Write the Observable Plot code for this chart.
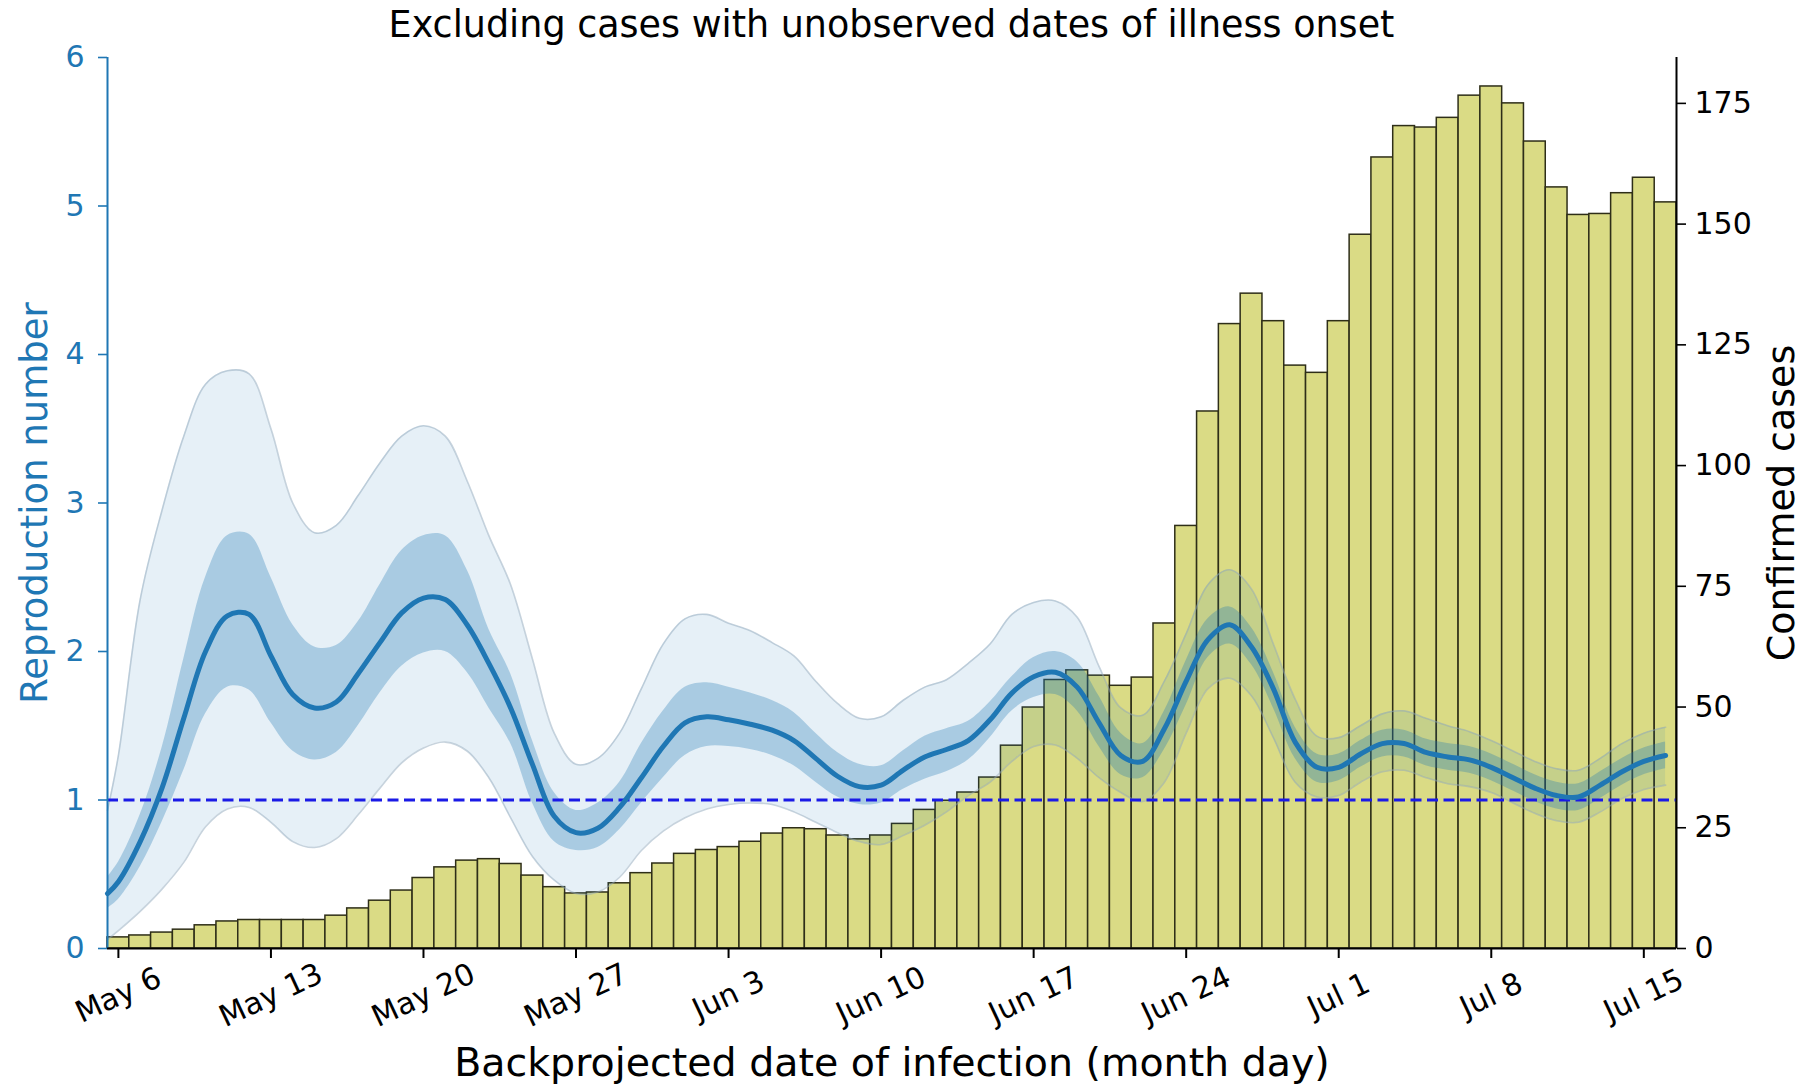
<!DOCTYPE html>
<html>
<head>
<meta charset="utf-8">
<script src="https://cdn.jsdelivr.net/npm/d3@7"></script>
<script src="https://cdn.jsdelivr.net/npm/@observablehq/plot@0.6"></script>
<style>
  html, body { margin: 0; padding: 0; background: #fff; }
  #wrap { width: 1812px; height: 1087px; position: relative; font-family: "DejaVu Sans", sans-serif; }
  #title { position: absolute; left: 107px; width: 1569px; top: 0; height: 50px; line-height: 50px;
           text-align: center; font-size: 36.5px; color: #000; white-space: nowrap; }
  #chart { position: absolute; left: 0; top: 50px; }
</style>
</head>
<body>
<div id="wrap">
  <div id="title">Excluding cases with unobserved dates of illness onset</div>
  <div id="chart"></div>
</div>
<script>
// ---------- data ----------
const startDate = "2020-05-06";               // first bar (day offset 0)
// confirmed cases per backprojected infection date (May 6 ... Jul 16)
const cases = [
  2.3, 2.7, 3.3, 3.9, 4.8, 5.6, 5.9, 5.9, 5.9, 5.9,
  6.8, 8.3, 9.9, 12.0, 14.6, 16.8, 18.2, 18.5, 17.5, 15.1,
  12.7, 11.4, 11.6, 13.5, 15.6, 17.6, 19.6, 20.4, 21.0, 22.1,
  23.8, 24.9, 24.7, 23.4, 22.6, 23.4, 25.8, 28.7, 30.6, 32.3,
  35.4, 42.0, 49.9, 55.6, 57.6, 56.5, 54.4, 56.1, 67.3, 87.5,
  111.2, 129.3, 135.6, 129.9, 120.7, 119.2, 129.9, 147.8, 163.8, 170.3,
  170.0, 172.0, 176.6, 178.5, 175.0, 167.1, 157.6, 151.9, 152.1, 156.4,
  159.6, 154.5
];
// reproduction number: day offsets from May 6
const rtDays = [-0.5, 0, 1, 2, 3, 4, 5, 6, 7, 8, 9, 10, 11, 12, 13, 14, 15, 16, 17, 18, 19,
  20, 21, 22, 23, 24, 25, 26, 27, 28, 29, 30, 31, 32, 33, 34, 35, 36, 37, 38, 39,
  40, 41, 42, 43, 44, 45, 46, 47, 48, 49, 50, 51, 52, 53, 54, 55, 56, 57, 58, 59,
  60, 61, 62, 63, 64, 65, 66, 67, 68, 69, 70, 71];
const rtMedian = [0.37, 0.45, 0.72, 1.08, 1.55, 2.00, 2.24, 2.25, 1.97, 1.71, 1.62, 1.66, 1.85, 2.06, 2.26, 2.36, 2.35, 2.18, 1.92, 1.62, 1.24,
  0.89, 0.78, 0.81, 0.95, 1.15, 1.36, 1.52, 1.56, 1.54, 1.51, 1.47, 1.40, 1.28, 1.16, 1.09, 1.10, 1.20, 1.29, 1.34, 1.40,
  1.54, 1.72, 1.83, 1.86, 1.76, 1.52, 1.30, 1.26, 1.48, 1.80, 2.08, 2.18, 2.03, 1.75, 1.39, 1.22, 1.22, 1.31, 1.38, 1.38,
  1.32, 1.29, 1.27, 1.22, 1.15, 1.08, 1.03, 1.02, 1.10, 1.19, 1.26, 1.30];
const rtLow50 = [0.27, 0.33, 0.55, 0.85, 1.20, 1.58, 1.76, 1.74, 1.52, 1.33, 1.27, 1.32, 1.50, 1.72, 1.90, 1.99, 2.00, 1.86, 1.62, 1.38, 0.98,
  0.72, 0.66, 0.68, 0.80, 0.98, 1.15, 1.30, 1.36, 1.36, 1.34, 1.30, 1.23, 1.12, 1.02, 0.97, 0.98, 1.07, 1.14, 1.19, 1.27,
  1.42, 1.60, 1.69, 1.71, 1.60, 1.36, 1.17, 1.15, 1.34, 1.64, 1.96, 2.05, 1.91, 1.62, 1.28, 1.12, 1.13, 1.22, 1.29, 1.29,
  1.23, 1.20, 1.18, 1.13, 1.06, 0.99, 0.94, 0.93, 1.01, 1.10, 1.17, 1.21];
const rtHigh50 = [0.48, 0.58, 0.90, 1.35, 1.95, 2.50, 2.78, 2.79, 2.50, 2.18, 2.03, 2.04, 2.20, 2.45, 2.68, 2.78, 2.78, 2.55, 2.15, 1.85, 1.40,
  1.05, 0.93, 0.98, 1.12, 1.38, 1.60, 1.76, 1.79, 1.76, 1.72, 1.67, 1.59, 1.45, 1.32, 1.24, 1.23, 1.33, 1.43, 1.48, 1.53,
  1.66, 1.83, 1.96, 2.00, 1.93, 1.70, 1.45, 1.38, 1.60, 1.94, 2.22, 2.30, 2.16, 1.86, 1.49, 1.31, 1.31, 1.40, 1.47, 1.47,
  1.41, 1.38, 1.36, 1.31, 1.24, 1.17, 1.12, 1.11, 1.19, 1.28, 1.35, 1.39];
const rtLow95 = [0.06, 0.12, 0.25, 0.40, 0.58, 0.82, 0.94, 0.95, 0.85, 0.72, 0.68, 0.74, 0.90, 1.08, 1.25, 1.35, 1.39, 1.33, 1.15, 0.88, 0.62,
  0.46, 0.37, 0.38, 0.48, 0.66, 0.79, 0.88, 0.94, 0.97, 0.98, 0.97, 0.92, 0.85, 0.78, 0.72, 0.70, 0.76, 0.83, 0.92, 1.03,
  1.12, 1.26, 1.36, 1.37, 1.28, 1.15, 1.05, 0.99, 1.12, 1.45, 1.75, 1.82, 1.70, 1.42, 1.12, 1.02, 1.03, 1.12, 1.19, 1.20,
  1.15, 1.11, 1.09, 1.05, 0.98, 0.91, 0.86, 0.85, 0.92, 1.01, 1.07, 1.10];
const rtHigh95 = [0.93, 1.30, 2.35, 2.95, 3.45, 3.80, 3.89, 3.87, 3.50, 3.00, 2.80, 2.85, 3.05, 3.27, 3.45, 3.52, 3.45, 3.15, 2.78, 2.45, 1.95,
  1.45, 1.24, 1.28, 1.45, 1.75, 2.05, 2.22, 2.25, 2.19, 2.14, 2.06, 1.97, 1.80, 1.65, 1.55, 1.56, 1.67, 1.76, 1.81, 1.92,
  2.05, 2.25, 2.33, 2.34, 2.23, 1.90, 1.62, 1.57, 1.80, 2.12, 2.45, 2.55, 2.42, 2.05, 1.68, 1.43, 1.42, 1.50, 1.58, 1.60,
  1.55, 1.50, 1.46, 1.40, 1.33, 1.26, 1.21, 1.20, 1.28, 1.38, 1.45, 1.49];
const tickDays = [0, 7, 14, 21, 28, 35, 42, 49, 56, 63, 70];
const tickLabels = ["May 6", "May 13", "May 20", "May 27", "Jun 3", "Jun 10", "Jun 17", "Jun 24", "Jul 1", "Jul 8", "Jul 15"];
const rtTicks = [0, 1, 2, 3, 4, 5, 6];
const caseTicks = [0, 25, 50, 75, 100, 125, 150, 175];

// ---------- build ----------
const DAY = 864e5;
const t0 = new Date(startDate + "T00:00:00Z").getTime();
const dayToDate = d => new Date(t0 + d * DAY);
const caseMax = 184.5, rtMax = 6;
const K = rtMax / caseMax;              // cases -> left-axis units (twin axis)

const bars = cases.map((c, i) => ({x1: dayToDate(i - 0.5), x2: dayToDate(i + 0.5), c}));
const rt = rtDays.map((d, i) => ({
  date: dayToDate(d), m: rtMedian[i], l50: rtLow50[i], h50: rtHigh50[i], l95: rtLow95[i], h95: rtHigh95[i]
}));
const ticks = tickDays.map(dayToDate);

const C0 = "#1f77b4";
const font = "DejaVu Sans";

const plot = Plot.plot({
  width: 1812,
  height: 1037,
  marginTop: 7,
  marginRight: 136,
  marginBottom: 139,
  marginLeft: 107,
  style: {fontFamily: font, fontSize: "30px", background: "transparent", overflow: "visible"},
  x: {type: "utc", domain: [dayToDate(-0.5), dayToDate(71.5)], axis: null},
  y: {domain: [0, rtMax], axis: null},
  marks: [
    // bars (confirmed cases, right axis)
    Plot.rect(bars, {x1: "x1", x2: "x2", y1: 0, y2: d => d.c * K,
      fill: "#dadb85", stroke: "#2e2e18", strokeWidth: 1.5}),
    // 95% band
    Plot.areaY(rt, {x: "date", y1: "l95", y2: "h95", fill: C0, fillOpacity: 0.11, curve: "catmull-rom"}),
    Plot.line(rt, {x: "date", y: "l95", stroke: "#8fa7bb", strokeOpacity: 0.5, strokeWidth: 1.6, curve: "catmull-rom"}),
    Plot.line(rt, {x: "date", y: "h95", stroke: "#8fa7bb", strokeOpacity: 0.5, strokeWidth: 1.6, curve: "catmull-rom"}),
    // 50% band
    Plot.areaY(rt, {x: "date", y1: "l50", y2: "h50", fill: C0, fillOpacity: 0.30, curve: "catmull-rom"}),
    // Rt = 1 reference
    Plot.ruleY([1], {stroke: "#1a1ae6", strokeWidth: 2.8, strokeDasharray: "11,5.5"}),
    // median
    Plot.line(rt, {x: "date", y: "m", stroke: C0, strokeWidth: 5, curve: "catmull-rom"}),
    // spines
    Plot.ruleX([dayToDate(-0.5)], {stroke: C0, strokeWidth: 2}),
    Plot.ruleX([dayToDate(71.5)], {stroke: "#000", strokeWidth: 2}),
    Plot.ruleY([0], {stroke: "#000", strokeWidth: 2.2}),
    // left axis (Rt)
    Plot.axisY({anchor: "left", ticks: rtTicks, tickFormat: d => String(d), tickSize: 9, tickPadding: 14,
      stroke: C0, fill: C0, strokeWidth: 1.6, fontSize: 30, label: null}),
    // right axis (cases)
    Plot.axisY({anchor: "right", ticks: caseTicks.map(c => c * K), tickFormat: (d, i) => String(caseTicks[i]),
      tickSize: 9, tickPadding: 9, stroke: "#000", fill: "#000", strokeWidth: 1.6, fontSize: 30, label: null}),
    // bottom ticks
    Plot.axisX({anchor: "bottom", ticks: ticks, tickFormat: () => "", tickSize: 10, tickPadding: 0,
      stroke: "#000", strokeWidth: 2, label: null}),
    Plot.text(ticks, {x: d => d, text: (d, i) => tickLabels[i], frameAnchor: "bottom", dy: 47,
      rotate: -25, textAnchor: "middle", lineAnchor: "middle", fontSize: 30, fill: "#000"}),
    // axis titles
    Plot.text(["Backprojected date of infection (month day)"], {text: d => d, frameAnchor: "bottom",
      dy: 127, textAnchor: "middle", lineAnchor: "bottom", fontSize: 39.5, fill: "#000"}),
    Plot.text(["Reproduction number"], {text: d => d, frameAnchor: "left", dx: -72, rotate: -90,
      textAnchor: "middle", lineAnchor: "middle", fontSize: 37, fill: C0}),
    Plot.text(["Confirmed cases"], {text: d => d, frameAnchor: "right", dx: 105, rotate: -90,
      textAnchor: "middle", lineAnchor: "middle", fontSize: 38, fill: "#000"})
  ]
});
document.getElementById("chart").appendChild(plot);
</script>
</body>
</html>
